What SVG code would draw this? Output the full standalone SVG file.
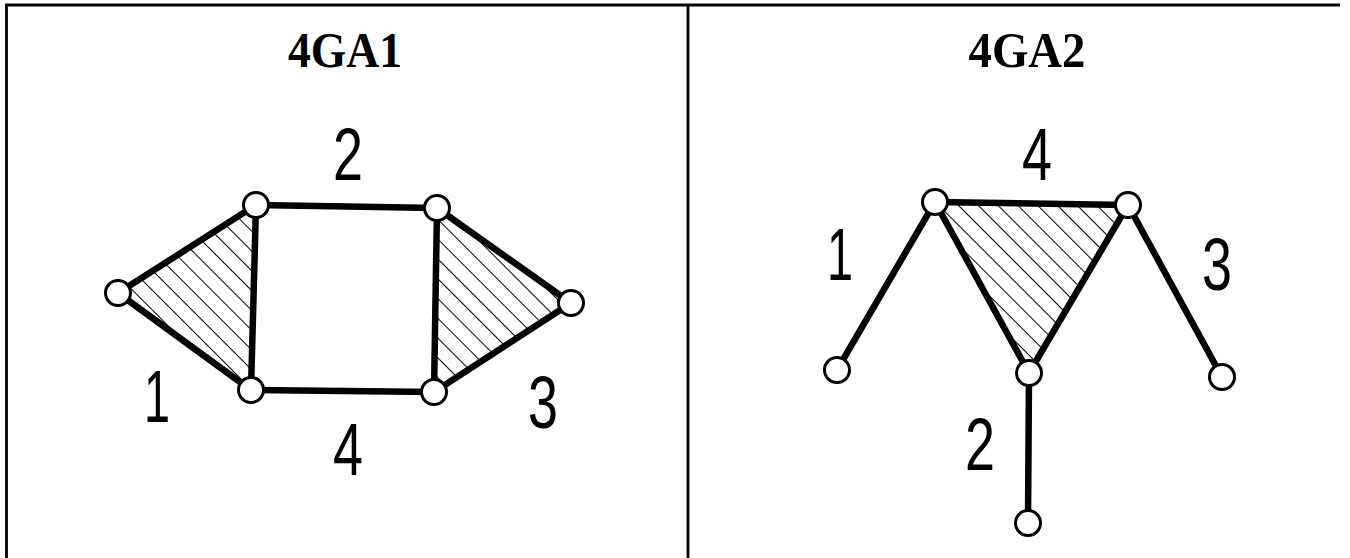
<svg xmlns="http://www.w3.org/2000/svg" width="1350" height="558" viewBox="0 0 1350 558">
<style>
.frame{stroke:#000;stroke-width:2.8;fill:none}
.title{font-family:"Liberation Serif","Times New Roman",serif;font-weight:bold;font-size:50px;text-anchor:middle;fill:#000}
.num{font-family:"Liberation Sans",Arial,sans-serif;font-size:74px;text-anchor:middle;fill:#000}
.edge{stroke:#000;stroke-width:6.5;stroke-linecap:round;fill:none}
.hatch{fill:url(#hatch);stroke:none}
.node{fill:#fff;stroke:#000;stroke-width:3}
</style>
<defs>
<pattern id="hatch" patternUnits="userSpaceOnUse" width="14" height="14" patternTransform="rotate(-45)">
<line x1="0" y1="0" x2="0" y2="14" stroke="#000" stroke-width="2"/>
</pattern>
</defs>
<rect width="1350" height="558" fill="#fff"/>
<g id="frame">
<line class="frame" x1="5" y1="5" x2="1340" y2="5"/>
<line class="frame" x1="6.5" y1="5" x2="6.5" y2="558"/>
<line class="frame" x1="688" y1="5" x2="688" y2="558"/>
</g>
<g id="titles">
<text class="title" x="345" y="67" textLength="114" lengthAdjust="spacingAndGlyphs">4GA1</text>
<text class="title" x="1027" y="67" textLength="117" lengthAdjust="spacingAndGlyphs">4GA2</text>
</g>
<g id="faces">
<polygon class="hatch" points="118,293 256,205 251,390"/>
<polygon class="hatch" points="437,208 571,303 434,392"/>
<polygon class="hatch" points="935,202 1128,205 1029,373"/>
</g>
<g id="connectors">
<line class="edge" x1="118" y1="293" x2="256" y2="205"/>
<line class="edge" x1="118" y1="293" x2="251" y2="390"/>
<line class="edge" x1="256" y1="205" x2="251" y2="390"/>
<line class="edge" x1="256" y1="205" x2="437" y2="208"/>
<line class="edge" x1="251" y1="390" x2="434" y2="392"/>
<line class="edge" x1="437" y1="208" x2="434" y2="392"/>
<line class="edge" x1="437" y1="208" x2="571" y2="303"/>
<line class="edge" x1="434" y1="392" x2="571" y2="303"/>
<line class="edge" x1="935" y1="202" x2="1128" y2="205"/>
<line class="edge" x1="935" y1="202" x2="1029" y2="373"/>
<line class="edge" x1="1128" y1="205" x2="1029" y2="373"/>
<line class="edge" x1="935" y1="202" x2="837" y2="370"/>
<line class="edge" x1="1128" y1="205" x2="1222" y2="377"/>
<line class="edge" x1="1029" y1="373" x2="1028" y2="523"/>
</g>
<g id="g1-nodes">
<circle id="n1-l" class="node" cx="118" cy="293" r="12.5"/>
<circle id="n1-tl" class="node" cx="256" cy="205" r="12.5"/>
<circle id="n1-bl" class="node" cx="251" cy="390" r="12.5"/>
<circle id="n1-tr" class="node" cx="437" cy="208" r="12.5"/>
<circle id="n1-br" class="node" cx="434" cy="392" r="12.5"/>
<circle id="n1-r" class="node" cx="571" cy="303" r="12.5"/>
</g>
<g id="g2-nodes">
<circle id="n2-tl" class="node" cx="935" cy="202" r="12.5"/>
<circle id="n2-tr" class="node" cx="1128" cy="205" r="12.5"/>
<circle id="n2-m" class="node" cx="1029" cy="373" r="12.5"/>
<circle id="n2-bl" class="node" cx="837" cy="370" r="12.5"/>
<circle id="n2-br" class="node" cx="1222" cy="377" r="12.5"/>
<circle id="n2-b" class="node" cx="1028" cy="523" r="12.5"/>
</g>
<g id="labels">
<text class="num" x="348" y="180" textLength="30" lengthAdjust="spacingAndGlyphs">2</text>
<text class="num" x="157" y="422" textLength="26" lengthAdjust="spacingAndGlyphs">1</text>
<text class="num" x="348" y="475" textLength="30" lengthAdjust="spacingAndGlyphs">4</text>
<text class="num" x="543" y="428" textLength="30" lengthAdjust="spacingAndGlyphs">3</text>
<text class="num" x="1037" y="180" textLength="30" lengthAdjust="spacingAndGlyphs">4</text>
<text class="num" x="840" y="280" textLength="26" lengthAdjust="spacingAndGlyphs">1</text>
<text class="num" x="1217" y="290" textLength="30" lengthAdjust="spacingAndGlyphs">3</text>
<text class="num" x="980" y="470" textLength="30" lengthAdjust="spacingAndGlyphs">2</text>
</g>
</svg>
